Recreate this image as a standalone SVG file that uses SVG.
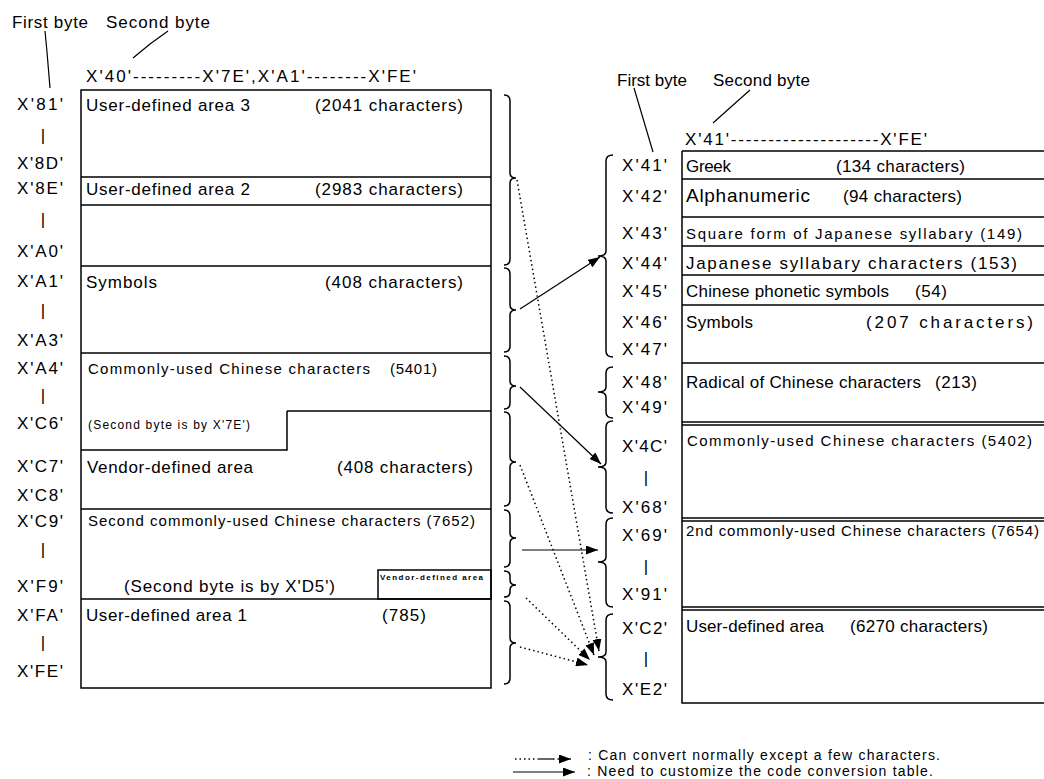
<svg xmlns="http://www.w3.org/2000/svg" width="1044" height="779" viewBox="0 0 1044 779">
<defs>
<marker id="ah" viewBox="0 0 12 9" refX="12" refY="4.5" markerWidth="12" markerHeight="9" markerUnits="userSpaceOnUse" orient="auto"><path d="M0,0 L12,4.5 L0,9 Z" fill="#000"/></marker>
</defs>
<style>
text{font-family:"Liberation Sans",Arial,sans-serif;fill:#000;font-size:17px}
.s{font-size:15px}
.xs{font-size:12px}
.tiny{font-size:8px;font-weight:bold}
.big{font-size:19px}
.lg{font-size:14px}
.bar{text-anchor:middle}
.ln{stroke:#000;stroke-width:1.5;fill:none}
.br{stroke:#000;stroke-width:1.5;fill:none}
.solid{stroke:#000;stroke-width:1.2;fill:none}
.dot{stroke:#000;stroke-width:1.5;fill:none;stroke-dasharray:1.5 3}
</style>
<rect width="1044" height="779" fill="#fff"/>

<g id="left-header">
<text x="12" y="28" textLength="76">First byte</text>
<text x="106" y="28" textLength="104">Second byte</text>
<path class="solid" d="M45,31 L47,52 L50,88"/>
<path class="solid" d="M168,31 L150,44 L133,58"/>
<text x="86" y="82" textLength="330">X'40'---------X'7E',X'A1'--------X'FE'</text>
</g>

<g id="left-labels">
<text x="17" y="110" textLength="46">X'81'</text>
<text class="bar" x="43" y="141">|</text>
<text x="17" y="169" textLength="46">X'8D'</text>
<text x="17" y="194" textLength="46">X'8E'</text>
<text class="bar" x="43" y="225">|</text>
<text x="17" y="257" textLength="46">X'A0'</text>
<text x="17" y="287" textLength="46">X'A1'</text>
<text class="bar" x="43" y="316">|</text>
<text x="17" y="346" textLength="46">X'A3'</text>
<text x="17" y="374" textLength="46">X'A4'</text>
<text class="bar" x="43" y="401">|</text>
<text x="17" y="429" textLength="46">X'C6'</text>
<text x="17" y="472" textLength="46">X'C7'</text>
<text x="17" y="501" textLength="46">X'C8'</text>
<text x="17" y="527" textLength="46">X'C9'</text>
<text class="bar" x="43" y="555">|</text>
<text x="17" y="592" textLength="46">X'F9'</text>
<text x="17" y="621" textLength="46">X'FA'</text>
<text class="bar" x="43" y="648">|</text>
<text x="17" y="677" textLength="46">X'FE'</text>
</g>

<g id="left-table">
<rect class="ln" x="81" y="90" width="410" height="598"/>
<path class="ln" d="M81,177 H491 M81,205 H491 M81,266 H491 M81,353 H491 M287,411 H491 M287,411 V450 H81 M81,509 H491 M81,599 H491"/>
<rect class="ln" x="378" y="570" width="113" height="29"/>
</g>
<g id="area-user3"><text x="86" y="111" textLength="164">User-defined area 3</text><text x="315" y="111" textLength="148">(2041 characters)</text></g>
<g id="area-user2"><text x="86" y="195" textLength="164">User-defined area 2</text><text x="315" y="195" textLength="148">(2983 characters)</text></g>
<g id="area-symbols-l"><text x="86" y="288" textLength="71">Symbols</text><text x="325" y="288" textLength="138">(408 characters)</text></g>
<g id="area-common-l"><text class="s" x="88" y="374" textLength="282">Commonly-used Chinese characters</text><text class="s" x="390" y="374" textLength="47">(5401)</text>
<text class="xs" x="88" y="429" textLength="162">(Second byte is by X'7E')</text></g>
<g id="area-vendor-l"><text x="87" y="473" textLength="166">Vendor-defined area</text><text x="337" y="473" textLength="136">(408 characters)</text></g>
<g id="area-second-l"><text class="s" x="88" y="526" textLength="387">Second commonly-used Chinese characters (7652)</text>
<text x="124" y="592" textLength="211">(Second byte is by X'D5')</text></g>
<g id="area-vendor-small"><text class="tiny" x="380" y="580" textLength="103">Vendor-defined area</text></g>
<g id="area-user1"><text x="86" y="621" textLength="161">User-defined area 1</text><text x="382" y="621" textLength="44">(785)</text></g>

<g id="right-header">
<text x="617" y="86" textLength="70">First byte</text>
<text x="713" y="86" textLength="97">Second byte</text>
<path class="solid" d="M634,88 L653,152"/>
<path class="solid" d="M750,90 L732,106 L713,123"/>
<text x="685" y="145" textLength="242">X'41'--------------------X'FE'</text>
</g>

<g id="right-labels">
<text x="622" y="171" textLength="45">X'41'</text>
<text x="622" y="202" textLength="45">X'42'</text>
<text x="622" y="239" textLength="45">X'43'</text>
<text x="622" y="269" textLength="45">X'44'</text>
<text x="622" y="297" textLength="45">X'45'</text>
<text x="622" y="328" textLength="45">X'46'</text>
<text x="622" y="355" textLength="45">X'47'</text>
<text x="622" y="388" textLength="45">X'48'</text>
<text x="622" y="413" textLength="45">X'49'</text>
<text x="622" y="452" textLength="45">X'4C'</text>
<text class="bar" x="646" y="483">|</text>
<text x="622" y="513" textLength="45">X'68'</text>
<text x="622" y="541" textLength="45">X'69'</text>
<text class="bar" x="646" y="572">|</text>
<text x="622" y="600" textLength="45">X'91'</text>
<text x="622" y="634" textLength="45">X'C2'</text>
<text class="bar" x="646" y="664">|</text>
<text x="622" y="695" textLength="45">X'E2'</text>
</g>

<g id="right-table">
<path class="ln" d="M682,151 V703 H1044 M682,151 H1044 M682,179 H1044 M682,217 H1044 M682,246 H1044 M682,275 H1044 M682,305 H1044 M682,363 H1044 M682,422 H1044 M682,425 H1044 M682,518 H1044 M682,521 H1044 M682,607 H1044 M682,610 H1044"/>
</g>
<g id="r-greek"><text x="686" y="172" textLength="45">Greek</text><text x="836" y="172" textLength="129">(134 characters)</text></g>
<g id="r-alnum"><text class="big" x="686" y="202" textLength="124">Alphanumeric</text><text x="843" y="202" textLength="119">(94 characters)</text></g>
<g id="r-square"><text class="s" x="686" y="239" textLength="336">Square form of Japanese syllabary (149)</text></g>
<g id="r-kana"><text x="686" y="269" textLength="331">Japanese syllabary characters (153)</text></g>
<g id="r-phonetic"><text x="686" y="297" textLength="203">Chinese phonetic symbols</text><text x="915" y="297" textLength="32">(54)</text></g>
<g id="r-symbols"><text x="686" y="328" textLength="67">Symbols</text><text x="866" y="328" textLength="167">(207 characters)</text></g>
<g id="r-radical"><text x="686" y="388" textLength="235">Radical of Chinese characters</text><text x="935" y="388" textLength="42">(213)</text></g>
<g id="r-common"><text class="s" x="687" y="446" textLength="345">Commonly-used Chinese characters (5402)</text></g>
<g id="r-second"><text class="s" x="686" y="536" textLength="353">2nd commonly-used Chinese characters (7654)</text></g>
<g id="r-user"><text x="686" y="632" textLength="138">User-defined area</text><text x="850" y="632" textLength="138">(6270 characters)</text></g>

<g id="braces">
<path class="br" d="M504,95 Q510,95 510,101 L510,173 Q510,178 516,178 Q510,178 510,183 L510,259 Q510,265 504,265"/>
<path class="br" d="M504,268 Q510,268 510,274 L510,305 Q510,310 516,310 Q510,310 510,315 L510,346 Q510,352 504,352"/>
<path class="br" d="M504,356 Q510,356 510,362 L510,381 Q510,386 516,386 Q510,386 510,391 L510,403 Q510,409 504,409"/>
<path class="br" d="M504,412 Q510,412 510,418 L510,457 Q510,462 516,462 Q510,462 510,467 L510,500 Q510,506 504,506"/>
<path class="br" d="M504,510 Q510,510 510,516 L510,533 Q510,538 516,538 Q510,538 510,543 L510,561 Q510,567 504,567"/>
<path class="br" d="M504,571 Q510,571 510,576 L510,580 Q510,585 516,585 Q510,585 510,590 L510,592 Q510,597 504,597"/>
<path class="br" d="M504,601 Q510,601 510,607 L510,638 Q510,643 516,643 Q510,643 510,648 L510,678 Q510,684 504,684"/>
<path class="br" d="M613,155 Q606,155 606,161 L606,251 Q606,256 598,256 Q606,256 606,261 L606,351 Q606,357 613,357"/>
<path class="br" d="M613,367 Q606,367 606,373 L606,387 Q606,392 598,392 Q606,392 606,397 L606,412 Q606,418 613,418"/>
<path class="br" d="M613,421 Q606,421 606,427 L606,462 Q606,467 598,467 Q606,467 606,472 L606,507 Q606,513 613,513"/>
<path class="br" d="M613,518 Q606,518 606,524 L606,557 Q606,562 598,562 Q606,562 606,567 L606,601 Q606,607 613,607"/>
<path class="br" d="M613,614 Q606,614 606,620 L606,652 Q606,657 598,657 Q606,657 606,662 L606,694 Q606,700 613,700"/>
</g>

<g id="connectors">
<line class="solid" x1="520" y1="309" x2="600" y2="257" marker-end="url(#ah)"/>
<line class="solid" x1="520" y1="387" x2="601" y2="464" marker-end="url(#ah)"/>
<line class="solid" x1="522" y1="550" x2="598" y2="550" marker-end="url(#ah)"/>
<line class="dot" x1="517" y1="180" x2="599" y2="651" marker-end="url(#ah)"/>
<line class="dot" x1="520" y1="465" x2="594" y2="655" marker-end="url(#ah)"/>
<line class="dot" x1="526" y1="598" x2="590" y2="660" marker-end="url(#ah)"/>
<line class="dot" x1="520" y1="647" x2="588" y2="665" marker-end="url(#ah)"/>
</g>

<g id="legend">
<line class="dot" x1="515" y1="759" x2="538" y2="759"/>
<line class="solid" x1="538" y1="759" x2="553" y2="759"/>
<line class="dot" x1="553" y1="759" x2="562" y2="759"/>
<line class="solid" x1="561" y1="759" x2="571" y2="759" marker-end="url(#ah)"/>
<text class="lg" x="588" y="760" textLength="352">: Can convert normally except a few characters.</text>
<line class="solid" x1="513" y1="772" x2="575" y2="772" marker-end="url(#ah)"/>
<text class="lg" x="587" y="776" textLength="346">: Need to customize the code conversion table.</text>
</g>
</svg>
